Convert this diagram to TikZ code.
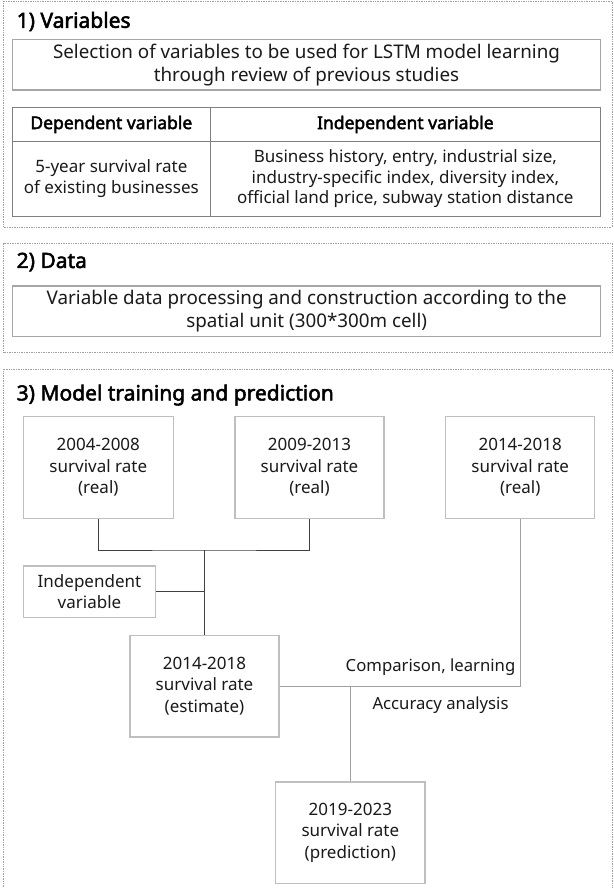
\documentclass[tikz,border=0pt]{standalone}
\usepackage{fontspec}
\setmainfont{Noto Sans}[AutoFakeBold=2.4]
\usetikzlibrary{calc}
\definecolor{boxgray}{HTML}{BFBFBF}
\definecolor{selgray}{HTML}{A6A6A6}
\definecolor{tabgray}{HTML}{808080}
\definecolor{secgray}{HTML}{A0A0A0}
\definecolor{txt}{HTML}{1A1A1A}
\definecolor{darkline}{HTML}{404040}
\definecolor{lightline}{HTML}{A0A0A0}
\tikzset{
  x=1pt, y=1pt,
  secbox/.style={draw=secgray, densely dotted, line width=0.7pt},
  title/.style={anchor=west, inner sep=0pt, text=black, font=\fontsize{21}{24}\selectfont\bfseries},
  bigbox/.style={draw=selgray, line width=1.4pt, inner sep=0pt, align=center, text=txt,
    font=\fontsize{18.8}{23}\selectfont},
  tabcell/.style={draw=tabgray, line width=0.9pt, inner sep=0pt, align=center, text=txt,
    font=\fontsize{17}{20.7}\selectfont},
  tabhead/.style={tabcell, text=black, font=\fontsize{17.5}{20}\selectfont\bfseries},
  flowbox/.style={draw=boxgray, line width=1.4pt, inner sep=0pt, align=center, text=txt,
    minimum width=149pt, minimum height=101.7pt, font=\fontsize{17}{21.5}\selectfont},
  darkconn/.style={draw=darkline, line width=0.9pt},
  lightconn/.style={draw=lightline, line width=1.1pt},
  lbl/.style={inner sep=0pt, text=txt, font=\fontsize{16.7}{20}\selectfont}
}
\begin{document}
\begin{tikzpicture}
\useasboundingbox[fill=white] (0,0) rectangle (613,-888);

% section frames
\node[secbox, minimum width=608.5pt, minimum height=226pt, inner sep=0pt] (sec1) at (307.75,-114) {};
\node[secbox, minimum width=608.5pt, minimum height=109.3pt, inner sep=0pt] (sec2) at (307.75,-297.65) {};
\coordinate (s3a) at (3.5,-892);
\coordinate (s3b) at (612,-369);
\draw[secbox] (s3a) |- (s3b) -- (s3b |- s3a);

% section 1
\node[title] (t1) at (16.5,-21.5) {1) Variables};
\node[bigbox, minimum width=588.4pt, minimum height=50.7pt] (sel) at (306.5,-64.7)
  {Selection of variables to be used for LSTM model learning\\through review of previous studies};
\node[tabhead, minimum width=197.3pt, minimum height=34.4pt] (hdep) at (111.35,-124.5) {Dependent variable};
\node[tabhead, minimum width=390.7pt, minimum height=34.4pt] (hind) at (405.35,-124.5) {Independent variable};
\node[tabcell, minimum width=197.3pt, minimum height=74.3pt] (rdep) at (111.35,-178.85)
  {5-year survival rate\\of existing businesses};
\node[tabcell, minimum width=390.7pt, minimum height=74.3pt] (rind) at (405.35,-178.85)
  {Business history, entry, industrial size,\\industry-specific index, diversity index,\\official land price, subway station distance};

% section 2
\node[title] (t2) at (16.5,-262) {2) Data};
\node[bigbox, minimum width=588pt, minimum height=50.7pt] (data) at (306.7,-311.35)
  {Variable data processing and construction according to the\\spatial unit (300*300m cell)};

% section 3
\node[title] (t3) at (16.5,-395) {3) Model training and prediction};
\node[flowbox, minimum width=150pt] (b1) at (98.3,-467.5) {2004-2008\\survival rate\\(real)};
\node[flowbox] (b2) at (309.5,-467.5) {2009-2013\\survival rate\\(real)};
\node[flowbox] (b3) at (520.2,-467.5) {2014-2018\\survival rate\\(real)};
\node[flowbox, minimum width=132.4pt, minimum height=51.3pt] (ind) at (89.5,-591.65) {Independent\\variable};
\node[flowbox] (est) at (204.5,-686.15) {2014-2018\\survival rate\\(estimate)};
\node[flowbox, minimum width=149.3pt] (pred) at (350.35,-832.85) {2019-2023\\survival rate\\(prediction)};

\coordinate (j1) at (204.5,-550);
\draw[darkconn] (b1.south) |- (j1) -| (b2.south);
\draw[darkconn] (j1) -- (est.north);
\draw[darkconn] (ind.east) -- (ind.east -| est.north);

\draw[lightconn] (b3.south) |- (est.east);
\draw[lightconn] (pred.north) -- (pred.north |- est.east);

\node[lbl, anchor=east] (cmp) at (515.5,-667) {Comparison, learning};
\node[lbl, anchor=west] (acc) at (372.3,-705.3) {Accuracy analysis};
\end{tikzpicture}
\end{document}
